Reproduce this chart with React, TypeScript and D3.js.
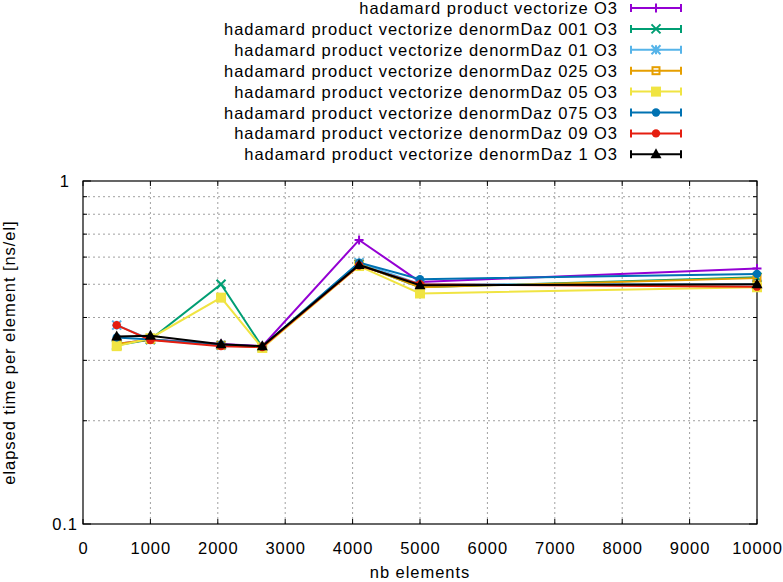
import React, { useEffect, useRef } from "react";
import * as d3 from "d3";

const width = 783;
const height = 582;
const space = { left: 83, right: 26, top: 181, bottom: 58 };

const sizes = [500, 1000, 2048, 2660, 4096, 5000, 10000];
const xTicks = [0, 1000, 2000, 3000, 4000, 5000, 6000, 7000, 8000, 9000, 10000];
const yMinor = [0.2, 0.3, 0.4, 0.5, 0.6, 0.7, 0.8, 0.9];

const names = [
  "hadamard product vectorize O3",
  "hadamard product vectorize denormDaz 001 O3",
  "hadamard product vectorize denormDaz 01 O3",
  "hadamard product vectorize denormDaz 025 O3",
  "hadamard product vectorize denormDaz 05 O3",
  "hadamard product vectorize denormDaz 075 O3",
  "hadamard product vectorize denormDaz 09 O3",
  "hadamard product vectorize denormDaz 1 O3",
];
const colors = ["#9400d3", "#009e73", "#56b4e9", "#e69f00", "#f0e442", "#0072b2", "#e51e10", "#000000"];
const markers = ["plus", "cross", "star", "square", "fsquare", "fcircle", "fcircle", "ftriangle"];

const vectorize = [0.335, 0.345, 0.335, 0.33, 0.673, 0.508, 0.556];
const daz001 = [0.332, 0.345, 0.5, 0.328, 0.572, 0.49, 0.524];
const daz01 = [0.38, 0.345, 0.332, 0.328, 0.578, 0.5, 0.5];
const daz025 = [0.335, 0.345, 0.332, 0.328, 0.572, 0.49, 0.521];
const daz05 = [0.33, 0.348, 0.457, 0.326, 0.565, 0.47, 0.49];
const daz075 = [0.35, 0.345, 0.333, 0.329, 0.578, 0.517, 0.536];
const daz09 = [0.38, 0.344, 0.33, 0.328, 0.567, 0.5, 0.492];
const daz1 = [0.352, 0.354, 0.334, 0.33, 0.569, 0.497, 0.5];
const series = [vectorize, daz001, daz01, daz025, daz05, daz075, daz09, daz1];

const font = "'Liberation Sans', Arial, sans-serif";
const fontSize = 16.5;
const spacing = 0.95;

function drawMarker(g: any, kind: string, cx: number, cy: number, color: string) {
  const s = 4.5;
  if (kind === "plus") {
    g.append("path").attr("d", `M${cx - s},${cy}H${cx + s}M${cx},${cy - s}V${cy + s}`)
      .attr("stroke", color).attr("stroke-width", 2);
  } else if (kind === "cross") {
    g.append("path").attr("d", `M${cx - s},${cy - s}L${cx + s},${cy + s}M${cx - s},${cy + s}L${cx + s},${cy - s}`)
      .attr("stroke", color).attr("stroke-width", 2);
  } else if (kind === "star") {
    g.append("path").attr("d", `M${cx - s},${cy}H${cx + s}M${cx},${cy - s}V${cy + s}M${cx - s},${cy - s}L${cx + s},${cy + s}M${cx - s},${cy + s}L${cx + s},${cy - s}`)
      .attr("stroke", color).attr("stroke-width", 2);
  } else if (kind === "square") {
    g.append("rect").attr("x", cx - 3.5).attr("y", cy - 3.5).attr("width", 7).attr("height", 7)
      .attr("fill", "none").attr("stroke", color).attr("stroke-width", 2);
  } else if (kind === "fsquare") {
    g.append("rect").attr("x", cx - 5).attr("y", cy - 5).attr("width", 10).attr("height", 10).attr("fill", color);
  } else if (kind === "fcircle") {
    g.append("circle").attr("cx", cx).attr("cy", cy).attr("r", 4.2).attr("fill", color);
  } else {
    g.append("path").attr("d", `M${cx},${cy - 6}L${cx + 5.5},${cy + 4}L${cx - 5.5},${cy + 4}Z`).attr("fill", color);
  }
}

const App = () => {
  const ref = useRef<SVGSVGElement>(null);

  useEffect(() => {
    const svg = d3.select(ref.current);
    svg.selectAll("*").remove();

    const x = d3.scaleLinear([0, 10000], [space.left, width - space.right]);
    const y = d3.scaleLog([0.1, 1], [height - space.bottom, space.top]);
    const x0 = x(0), x1 = x(10000), y0 = y(0.1), y1 = y(1);

    // grid
    const grid = svg.append("g").attr("stroke", "#a0a0a0").attr("stroke-width", 1).attr("stroke-dasharray", "2,3");
    xTicks.slice(1, -1).forEach((t) => {
      grid.append("line").attr("x1", x(t)).attr("x2", x(t)).attr("y1", y0).attr("y2", y1);
    });
    yMinor.forEach((t) => {
      grid.append("line").attr("x1", x0).attr("x2", x1).attr("y1", y(t)).attr("y2", y(t));
    });

    // ticks
    const ticks = svg.append("g").attr("stroke", "#000").attr("stroke-width", 1);
    xTicks.forEach((t) => {
      ticks.append("line").attr("x1", x(t)).attr("x2", x(t)).attr("y1", y0).attr("y2", y0 - 5);
      ticks.append("line").attr("x1", x(t)).attr("x2", x(t)).attr("y1", y1).attr("y2", y1 + 5);
    });
    [0.1, 1].forEach((t) => {
      ticks.append("line").attr("x1", x0).attr("x2", x0 + 8).attr("y1", y(t)).attr("y2", y(t));
      ticks.append("line").attr("x1", x1).attr("x2", x1 - 8).attr("y1", y(t)).attr("y2", y(t));
    });
    yMinor.forEach((t) => {
      ticks.append("line").attr("x1", x0).attr("x2", x0 + 4).attr("y1", y(t)).attr("y2", y(t));
      ticks.append("line").attr("x1", x1).attr("x2", x1 - 4).attr("y1", y(t)).attr("y2", y(t));
    });

    // border
    svg.append("rect").attr("x", x0).attr("y", y1).attr("width", x1 - x0).attr("height", y0 - y1)
      .attr("fill", "none").attr("stroke", "#000").attr("stroke-width", 1.2);

    // tick labels
    const labels = svg.append("g").attr("font-family", font).attr("font-size", fontSize)
      .attr("letter-spacing", spacing).attr("fill", "#000");
    xTicks.forEach((t) => {
      labels.append("text").attr("x", x(t) + spacing / 2).attr("y", y0 + 30).attr("text-anchor", "middle").text(String(t));
    });
    labels.append("text").attr("x", 78).attr("y", y(0.1) + 6).attr("text-anchor", "end").text("0.1");
    labels.append("text").attr("x", 70).attr("y", y(1) + 6).attr("text-anchor", "end").text("1");
    labels.append("text").attr("x", (x0 + x1) / 2).attr("y", 578).attr("text-anchor", "middle").text("nb elements");
    labels.append("text").attr("transform", `translate(15,${(y0 + y1) / 2}) rotate(-90)`)
      .attr("text-anchor", "middle").text("elapsed time per element [ns/el]");

    // series
    const line = d3.line<number>().x((_, i) => x(sizes[i])).y((d) => y(d));
    series.forEach((vals, k) => {
      const g = svg.append("g");
      g.append("path").datum(vals).attr("fill", "none").attr("stroke", colors[k]).attr("stroke-width", 2)
        .attr("stroke-linejoin", "miter").attr("d", line);
      vals.forEach((v, i) => drawMarker(g, markers[k], x(sizes[i]), y(v), colors[k]));
    });

    // legend
    const legend = svg.append("g");
    names.forEach((n, k) => {
      const ly = 8 + k * 20.9;
      legend.append("text").attr("x", 618).attr("y", ly + 6).attr("text-anchor", "end")
        .attr("font-family", font).attr("font-size", fontSize).attr("letter-spacing", spacing).text(n);
      legend.append("path").attr("d", `M631,${ly}H681M631,${ly - 4}V${ly + 4}M681,${ly - 4}V${ly + 4}`)
        .attr("stroke", colors[k]).attr("stroke-width", 2).attr("fill", "none");
      drawMarker(legend, markers[k], 656, ly, colors[k]);
    });
  }, []);

  return (
    <svg
      ref={ref}
      width={width}
      height={height}
      viewBox={`0 0 ${width} ${height}`}
      style={{ position: "absolute", left: 0, top: 0, background: "#fff" }}
    />
  );
};

export default App;
